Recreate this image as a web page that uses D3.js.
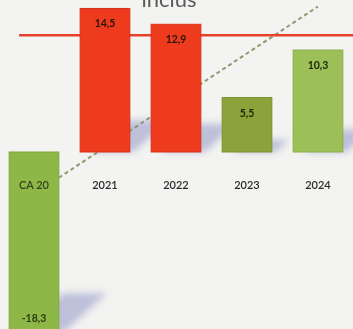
<!DOCTYPE html>
<html>
<head>
<meta charset="utf-8">
<script src="https://cdn.jsdelivr.net/npm/d3@7/dist/d3.min.js"></script>
<style>
  html, body { margin: 0; padding: 0; background: #f3f3f1; }
  svg { display: block; }
</style>
</head>
<body>
<svg id="chart" width="353" height="329"></svg>
<script>
// Categories and yearly variations (%)
const categories = ["CA 20", "2021", "2022", "2023", "2024"];
const values = [-18.3, 14.5, 12.9, 5.5, 10.3];
const valueLabels = ["-18,3", "14,5", "12,9", "5,5", "10,3"];
const barColors = ["#8db848", "#ee3b1e", "#ee3b1e", "#8aa33a", "#9cbf57"];
const barStrokes = ["#7da63c", "#d8301a", "#d8301a", "#7a9230", "#8aae48"];
const labelColors = ["#2f3a14", "#2b1408", "#2b1408", "#1f2608", "#1f2608"];

// Reference level (horizontal line) and the dashed trend connector
const referenceLevel = 11.8;
const trendStart = -2.6;
const trendEnd = 14.7;

const width = 353, height = 329;
const svg = d3.select("#chart");

svg.append("rect").attr("width", width).attr("height", height).attr("fill", "#f3f3f1");

const x = d3.scaleBand()
  .domain(categories)
  .range([-1.5, 353.5])
  .paddingInner(0.3)
  .paddingOuter(0.15);

const y = d3.scaleLinear()
  .domain([-20, 16])
  .range([350, -6.4]);

const bw = x.bandwidth();

// Soft cast shadows behind the bars
const defs = svg.append("defs");
defs.append("filter").attr("id", "soft")
  .attr("x", "-50%").attr("y", "-50%").attr("width", "200%").attr("height", "200%")
  .append("feGaussianBlur").attr("stdDeviation", 3.5);

const shadowG = svg.append("g").attr("filter", "url(#soft)");
categories.forEach((c, i) => {
  const v = values[i];
  const x0 = x(c), x1 = x(c) + bw;
  const yEnd = v >= 0 ? y(0) : y(v);
  const len = Math.abs(y(v) - y(0));
  const h = len * 0.22;
  const s = h * 1.1;
  const pts = [
    [x0 + 10, yEnd], [x1 + 4, yEnd],
    [x1 + 4 + s, yEnd - h], [x0 + 10 + s, yEnd - h]
  ];
  shadowG.append("polygon")
    .attr("points", pts.map(p => p.join(",")).join(" "))
    .attr("fill", "#8f96c4")
    .attr("opacity", 0.55);
});

// Dashed trend line
svg.append("line")
  .attr("x1", x("CA 20") + bw).attr("y1", y(trendStart))
  .attr("x2", x("2024") + bw / 2).attr("y2", y(trendEnd))
  .attr("stroke", "#8e9a72")
  .attr("stroke-width", 2)
  .attr("stroke-dasharray", "4,3");

// Reference line
svg.append("line")
  .attr("x1", x("CA 20") + bw * 0.2).attr("x2", width)
  .attr("y1", y(referenceLevel)).attr("y2", y(referenceLevel))
  .attr("stroke", "#e8402a")
  .attr("stroke-width", 2.5);

// Bars
svg.append("g").selectAll("rect")
  .data(categories)
  .join("rect")
  .attr("x", c => x(c))
  .attr("width", bw)
  .attr("y", (c, i) => Math.min(y(values[i]), y(0)))
  .attr("height", (c, i) => Math.abs(y(values[i]) - y(0)))
  .attr("fill", (c, i) => barColors[i])
  .attr("stroke", (c, i) => barStrokes[i])
  .attr("stroke-width", 1);

// Value labels at the outer end of each bar
svg.append("g").selectAll("text")
  .data(categories)
  .join("text")
  .attr("x", c => x(c) + bw / 2)
  .attr("y", (c, i) => values[i] >= 0 ? y(values[i]) + 19 : y(values[i]) - 11)
  .attr("text-anchor", "middle")
  .attr("font-family", "Lato, 'Open Sans', sans-serif")
  .attr("font-weight", "bold")
  .attr("font-size", 10.5)
  .attr("fill", (c, i) => labelColors[i])
  .text((c, i) => valueLabels[i]);

// Category labels
svg.append("g").selectAll("text")
  .data(categories)
  .join("text")
  .attr("x", c => x(c) + bw / 2)
  .attr("y", y(0) + 37)
  .attr("text-anchor", "middle")
  .attr("font-family", "Lato, 'Open Sans', sans-serif")
  .attr("font-weight", 600)
  .attr("font-size", 11)
  .attr("fill", (c, i) => i === 0 ? "#34421a" : "#2a2a2a")
  .text(c => c);

// Title (its upper part lies above the frame)
svg.append("text")
  .attr("x", 169).attr("y", 7)
  .attr("text-anchor", "middle")
  .attr("font-family", "Lato, 'Open Sans', sans-serif")
  .attr("font-size", 22)
  .attr("fill", "#5a5a5a")
  .text("inclus");
</script>
</body>
</html>
